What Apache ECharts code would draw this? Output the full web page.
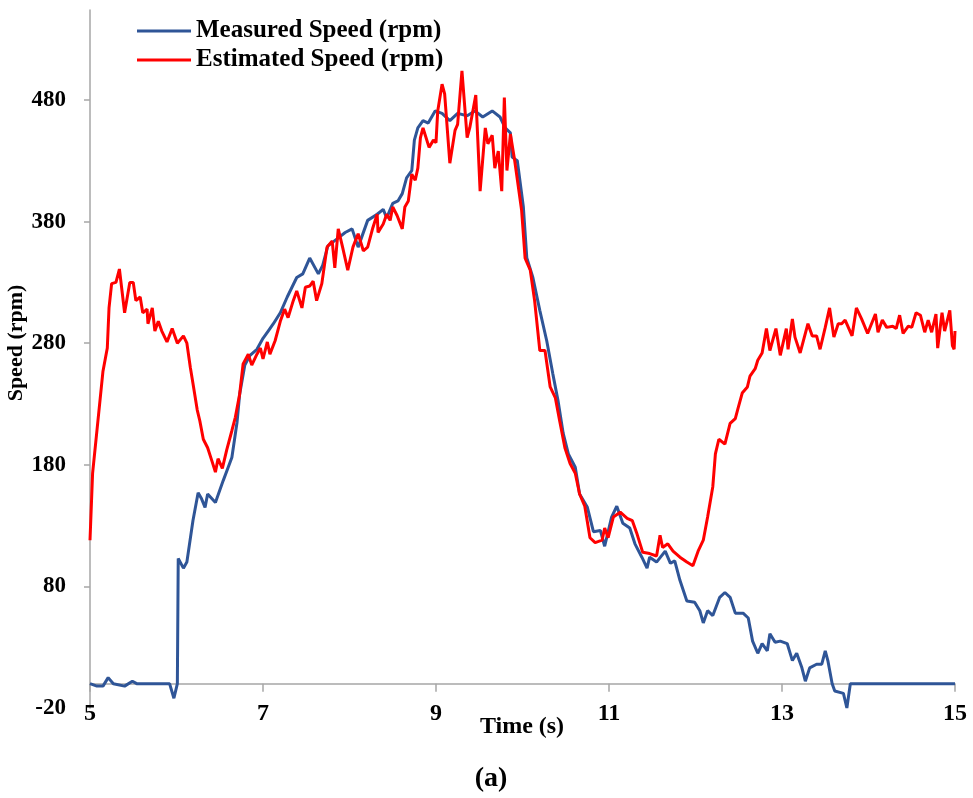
<!DOCTYPE html>
<html>
<head>
<meta charset="utf-8">
<script src="https://cdn.jsdelivr.net/npm/echarts@6/dist/echarts.min.js"></script>
<style>
html,body{margin:0;padding:0;background:#fff;}
#c{width:973px;height:798px;}
</style>
</head>
<body>
<div id="c"></div>
<script>
var xTicks = [5, 7, 9, 11, 13, 15];
var yTicks = [-20, 80, 180, 280, 380, 480];

var measuredTime = [5.00,5.08,5.15,5.21,5.27,5.40,5.49,5.54,5.92,5.97,6.01,6.02,6.08,6.12,6.19,6.25,6.29,6.33,6.36,6.45,6.54,6.64,6.70,6.73,6.79,6.85,6.93,7.00,7.06,7.12,7.20,7.28,7.39,7.46,7.54,7.64,7.69,7.75,7.86,7.95,8.03,8.10,8.21,8.32,8.39,8.43,8.50,8.56,8.61,8.66,8.72,8.75,8.79,8.85,8.91,8.99,9.07,9.16,9.25,9.36,9.45,9.54,9.65,9.74,9.80,9.86,9.88,9.94,10.01,10.05,10.12,10.20,10.28,10.35,10.41,10.47,10.53,10.61,10.66,10.75,10.82,10.90,10.95,11.03,11.09,11.16,11.24,11.30,11.38,11.44,11.47,11.55,11.65,11.71,11.76,11.82,11.90,11.99,12.05,12.09,12.14,12.20,12.28,12.34,12.40,12.46,12.55,12.61,12.66,12.72,12.77,12.83,12.86,12.92,12.98,13.06,13.12,13.17,13.23,13.27,13.32,13.40,13.46,13.50,13.53,13.58,13.61,13.71,13.75,13.79,15.00];
var measuredSpeed = [0,-2,-2,5,0,-2,2,0,0,-12,0,103,95,100,134,157,152,145,156,149,167,186,215,238,262,270,275,284,290,296,305,318,334,337,350,337,344,360,366,371,374,359,381,386,390,383,395,397,403,416,422,447,457,463,461,471,469,463,469,467,471,466,471,466,457,453,433,430,392,350,334,307,282,255,233,206,189,178,156,145,125,126,113,137,146,132,128,115,104,95,104,100,109,99,101,85,68,67,60,50,60,56,71,75,71,58,58,54,35,25,33,27,41,34,35,33,19,25,13,2,13,16,16,27,19,0,-6,-8,-20,0,0];

var estimatedTime = [5.00,5.03,5.15,5.20,5.22,5.25,5.30,5.34,5.40,5.46,5.50,5.53,5.58,5.61,5.66,5.67,5.72,5.75,5.79,5.83,5.89,5.95,6.01,6.08,6.12,6.16,6.19,6.24,6.27,6.31,6.36,6.41,6.45,6.48,6.53,6.58,6.64,6.68,6.73,6.77,6.83,6.87,6.93,6.97,7.00,7.05,7.08,7.14,7.20,7.25,7.29,7.35,7.39,7.45,7.49,7.54,7.58,7.62,7.68,7.74,7.80,7.83,7.87,7.92,7.98,8.04,8.10,8.16,8.21,8.27,8.32,8.33,8.39,8.43,8.47,8.50,8.55,8.61,8.64,8.68,8.72,8.76,8.79,8.82,8.85,8.92,8.97,9.00,9.02,9.07,9.10,9.16,9.22,9.25,9.30,9.36,9.39,9.46,9.51,9.57,9.60,9.65,9.68,9.72,9.76,9.79,9.82,9.86,9.91,9.99,10.03,10.09,10.14,10.20,10.26,10.32,10.38,10.43,10.49,10.55,10.61,10.66,10.72,10.78,10.84,10.92,10.95,10.99,11.05,11.13,11.21,11.27,11.32,11.39,11.47,11.55,11.59,11.62,11.68,11.74,11.82,11.90,11.97,12.03,12.09,12.14,12.20,12.23,12.27,12.34,12.40,12.46,12.49,12.54,12.60,12.63,12.69,12.72,12.77,12.82,12.86,12.93,12.98,13.05,13.07,13.12,13.15,13.21,13.30,13.35,13.40,13.44,13.50,13.55,13.60,13.65,13.69,13.73,13.81,13.86,13.92,13.99,14.08,14.11,14.16,14.21,14.28,14.32,14.36,14.40,14.46,14.50,14.55,14.60,14.65,14.69,14.73,14.78,14.80,14.85,14.88,14.94,14.97,14.99,15.00];
var estimatedSpeed = [118,173,257,276,309,329,330,341,305,330,330,315,318,305,308,296,309,290,298,290,281,292,280,286,280,260,247,225,216,201,194,183,174,185,177,192,208,219,238,263,271,262,271,276,267,281,271,282,298,308,301,315,323,309,326,327,331,315,329,359,364,342,374,359,340,359,370,356,359,375,386,371,378,386,381,392,385,374,392,397,419,414,424,449,457,441,447,445,471,493,485,428,455,460,504,449,457,484,405,457,444,451,424,438,405,482,422,452,430,389,350,340,315,274,274,244,235,216,194,181,173,156,146,120,116,118,128,120,137,141,136,134,124,108,107,105,122,112,115,109,104,100,97,109,118,137,162,189,201,197,214,218,226,239,244,253,259,266,272,292,274,292,270,292,275,300,285,272,296,286,286,275,293,309,285,296,296,299,286,309,300,288,304,289,299,293,294,292,303,288,294,293,305,303,289,299,289,304,276,305,290,307,278,275,290];

function pairs(t, v) { return t.map(function (x, i) { return [x, v[i]]; }); }

var FONT = 'Liberation Serif';
var chart = echarts.init(document.getElementById('c'), null, { renderer: 'canvas' });
chart.setOption({
  backgroundColor: '#ffffff',
  animation: false,
  grid: { left: 90, right: 18, top: 10, bottom: 90, containLabel: false },
  legend: {
    orient: 'vertical',
    left: 137,
    top: 18,
    padding: 0,
    icon: 'rect',
    itemWidth: 54,
    itemHeight: 3,
    itemGap: 3,
    textStyle: { fontFamily: FONT, fontWeight: 'bold', fontSize: 25, lineHeight: 26, color: '#000' },
    data: ['Measured Speed (rpm)', 'Estimated Speed (rpm)']
  },
  xAxis: {
    type: 'value',
    min: 5,
    max: 15,
    axisLine: { show: true, onZero: true, lineStyle: { color: '#a6a6a6', width: 1.5 } },
    axisTick: { show: true, length: 8, customValues: xTicks, lineStyle: { color: '#a6a6a6', width: 1.5 } },
    axisLabel: { customValues: xTicks, margin: -6, fontFamily: FONT, fontWeight: 'bold', fontSize: 24, color: '#000' },
    splitLine: { show: false }
  },
  yAxis: {
    type: 'value',
    min: -20,
    max: 554,
    axisLine: { show: true, lineStyle: { color: '#a6a6a6', width: 1.5 } },
    axisTick: { show: true, length: 6, customValues: [80, 180, 280, 380, 480], lineStyle: { color: '#a6a6a6', width: 1.5 } },
    axisLabel: { customValues: yTicks, margin: 24, fontFamily: FONT, fontWeight: 'bold', fontSize: 23, color: '#000' },
    splitLine: { show: false }
  },
  graphic: [
    {
      type: 'text',
      x: 16, y: 343,
      rotation: Math.PI / 2,
      style: { text: 'Speed (rpm)', fontFamily: FONT, fontWeight: 'bold', fontSize: 22, fill: '#000', align: 'center', verticalAlign: 'middle' }
    },
    {
      type: 'text',
      x: 522, y: 727,
      style: { text: 'Time (s)', fontFamily: FONT, fontWeight: 'bold', fontSize: 24, fill: '#000', align: 'center', verticalAlign: 'middle' }
    },
    {
      type: 'text',
      x: 491, y: 779,
      style: { text: '(a)', fontFamily: FONT, fontWeight: 'bold', fontSize: 28, fill: '#000', align: 'center', verticalAlign: 'middle' }
    }
  ],
  series: [
    {
      name: 'Measured Speed (rpm)',
      type: 'line',
      data: pairs(measuredTime, measuredSpeed),
      showSymbol: false,
      symbol: 'none',
      lineStyle: { color: '#2f5597', width: 3 },
      itemStyle: { color: '#2f5597' },
      z: 2
    },
    {
      name: 'Estimated Speed (rpm)',
      type: 'line',
      data: pairs(estimatedTime, estimatedSpeed),
      showSymbol: false,
      symbol: 'none',
      lineStyle: { color: '#ff0000', width: 3 },
      itemStyle: { color: '#ff0000' },
      z: 3
    }
  ]
});
</script>
</body>
</html>
